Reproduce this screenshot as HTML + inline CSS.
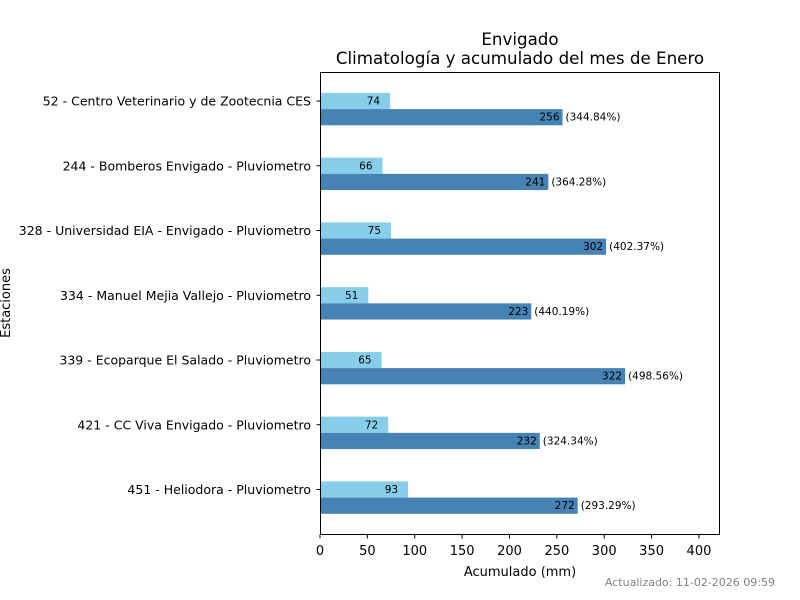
<!DOCTYPE html>
<html><head><meta charset="utf-8">
<style>
body{margin:0;background:#fff;}
svg{display:block;font-family:"DejaVu Sans","Liberation Sans",sans-serif;}
</style></head>
<body>
<svg id="chart" width="800" height="600" xmlns="http://www.w3.org/2000/svg">
<rect width="800" height="600" fill="#fff"/>
<text x="520" y="45" font-size="16.7" text-anchor="middle">Envigado</text>
<text x="520" y="64" font-size="16.7" text-anchor="middle">Climatología y acumulado del mes de Enero</text>
<g id="bars"></g>
<g id="yticks"></g>
<g id="xticks"></g>
<rect x="320.5" y="72.5" width="399" height="462" fill="none" stroke="#000" stroke-width="1"/>
<text x="520" y="576" font-size="13" text-anchor="middle">Acumulado (mm)</text>
<text transform="translate(10,303) rotate(-90)" font-size="13" text-anchor="middle">Estaciones</text>
<text x="775" y="586" font-size="11" fill="#808080" text-anchor="end">Actualizado: 11-02-2026 09:59</text>
</svg>
<script>
const categories=["52 - Centro Veterinario y de Zootecnia CES","244 - Bomberos Envigado - Pluviometro","328 - Universidad EIA - Envigado - Pluviometro","334 - Manuel Mejia Vallejo - Pluviometro","339 - Ecoparque El Salado - Pluviometro","421 - CC Viva Envigado - Pluviometro","451 - Heliodora - Pluviometro"];
const climatology=[74,66,75,51,65,72,93];
const accumulated=[256,241,302,223,322,232,272];
const percents=["344.84%","364.28%","402.37%","440.19%","498.56%","324.34%","293.29%"];
const xTicks=[0,50,100,150,200,250,300,350,400];

const NS="http://www.w3.org/2000/svg";
const x0=320,xmax=422.2,pw=400;
const xs=v=>x0+v/xmax*pw;
const yc=i=>101+i*64.75;
const bh=16.2;
function mk(tag,attrs,parent,txt){const e=document.createElementNS(NS,tag);for(const k in attrs)e.setAttribute(k,attrs[k]);if(txt!==undefined)e.textContent=txt;parent.appendChild(e);return e;}
const gb=document.getElementById('bars'),gy=document.getElementById('yticks'),gx=document.getElementById('xticks');
categories.forEach((c,i)=>{
  const y=yc(i);
  const r1=mk('rect',{x:x0,y:y-bh/2,width:xs(climatology[i])-x0,height:bh,fill:'#87ceeb'},gb);
  
  
  const t1=mk('text',{x:xs(climatology[i])-10,y:y+3.5,'font-size':10.5,'text-anchor':'end'},gb,climatology[i]);
  
  
  const r2=mk('rect',{x:x0,y:y+bh/2,width:xs(accumulated[i])-x0,height:bh,fill:'#4682b4'},gb);
  
  
  const t2=mk('text',{x:xs(accumulated[i])-3,y:y+bh+3.5,'font-size':10.5,'text-anchor':'end'},gb,accumulated[i]);
  
  
  const t3=mk('text',{x:xs(accumulated[i])+3,y:y+bh+3.5,'font-size':10.5},gb,'('+percents[i]+')');
  
  
  mk('line',{x1:316.5,x2:320.5,y1:y,y2:y,stroke:'#000'},gy);
  const tl=mk('text',{x:311,y:y+4.5,'font-size':12.5,'text-anchor':'end'},gy,c);
  
  
});
xTicks.forEach(v=>{
  const x=xs(v);
  mk('line',{x1:x,x2:x,y1:534.5,y2:538.5,stroke:'#000'},gx);
  const t=mk('text',{x:x,y:555,'font-size':13,'text-anchor':'middle'},gx,v);
  
  
});
</script>
</body></html>
